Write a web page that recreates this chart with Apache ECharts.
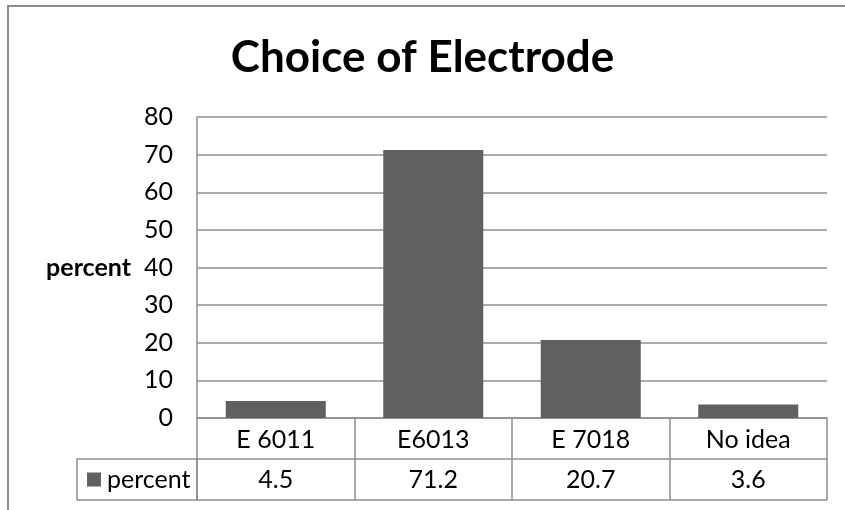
<!DOCTYPE html>
<html>
<head>
<meta charset="utf-8">
<script src="https://cdn.jsdelivr.net/npm/echarts@6/dist/echarts.min.js"></script>
<style>
html,body{margin:0;padding:0;background:#fff;}
#chart{width:845px;height:510px;}
</style>
</head>
<body>
<div id="chart"></div>
<script>
const titleText = 'Choice of Electrode';
const seriesName = 'percent';
const categories = ['E 6011', 'E6013', 'E 7018', 'No idea'];
const values = [4.5, 71.2, 20.7, 3.6];
const yMin = 0, yMax = 80, yStep = 10;

const FONT = 'Lato';
const FS = 25;
const LINE = '#8f8f8f';
const chart = echarts.init(document.getElementById('chart'), null, {renderer: 'canvas'});

chart.setOption({
  animation: false,
  backgroundColor: '#fff',
  title: {
    text: titleText,
    left: 'center',
    top: 31,
    textStyle: {fontFamily: FONT, fontSize: 44, fontWeight: 'bold', color: '#000'}
  },
  legend: {
    data: [seriesName],
    left: 87,
    top: 467,
    padding: 0,
    icon: 'rect',
    itemWidth: 14,
    itemHeight: 14,
    itemGap: 0,
    textStyle: {fontFamily: FONT, fontSize: FS, color: '#000', padding: [0, 0, 0, 1]}
  },
  grid: {left: 197, right: 18, top: 117, bottom: 92, containLabel: false},
  xAxis: [
    {
      type: 'category',
      data: categories,
      position: 'bottom',
      axisLine: {show: true, lineStyle: {color: LINE, width: 1.5}},
      axisTick: {show: true, length: 82, interval: 0, lineStyle: {color: LINE, width: 1.5}},
      axisLabel: {interval: 0, margin: 9, fontFamily: FONT, fontSize: FS, color: '#000'}
    },
    {
      type: 'category',
      data: values.map(String),
      position: 'bottom',
      offset: 41,
      axisLine: {show: true, lineStyle: {color: LINE, width: 1.5}},
      axisTick: {show: false},
      axisLabel: {interval: 0, margin: 8, fontFamily: FONT, fontSize: FS, color: '#000'}
    },
    {
      type: 'category',
      data: categories,
      position: 'bottom',
      offset: 82,
      axisLine: {show: true, lineStyle: {color: LINE, width: 1.5}},
      axisTick: {show: false},
      axisLabel: {show: false}
    }
  ],
  yAxis: {
    type: 'value',
    min: yMin,
    max: yMax,
    interval: yStep,
    name: seriesName,
    nameLocation: 'middle',
    nameRotate: 0,
    nameGap: 66,
    nameTextStyle: {fontFamily: FONT, fontSize: FS, fontWeight: 'bold', color: '#000'},
    axisLine: {show: true, lineStyle: {color: LINE, width: 1.5}},
    axisTick: {show: false},
    splitLine: {show: true, lineStyle: {color: LINE, width: 1.5}},
    axisLabel: {margin: 24, fontFamily: FONT, fontSize: FS, color: '#000'}
  },
  series: [{
    name: seriesName,
    type: 'bar',
    xAxisIndex: 0,
    data: values,
    barWidth: '63.5%',
    itemStyle: {color: '#606060'}
  }],
  graphic: [
    {
      type: 'polyline',
      shape: {points: [[8, 510], [8, 6], [845, 6]]},
      style: {stroke: '#8c8c8c', lineWidth: 2, fill: null},
      silent: true
    },
    {
      type: 'rect',
      shape: {x: 77, y: 459, width: 120, height: 41},
      style: {stroke: LINE, lineWidth: 1.5, fill: null},
      silent: true
    }
  ]
});
</script>
</body>
</html>
